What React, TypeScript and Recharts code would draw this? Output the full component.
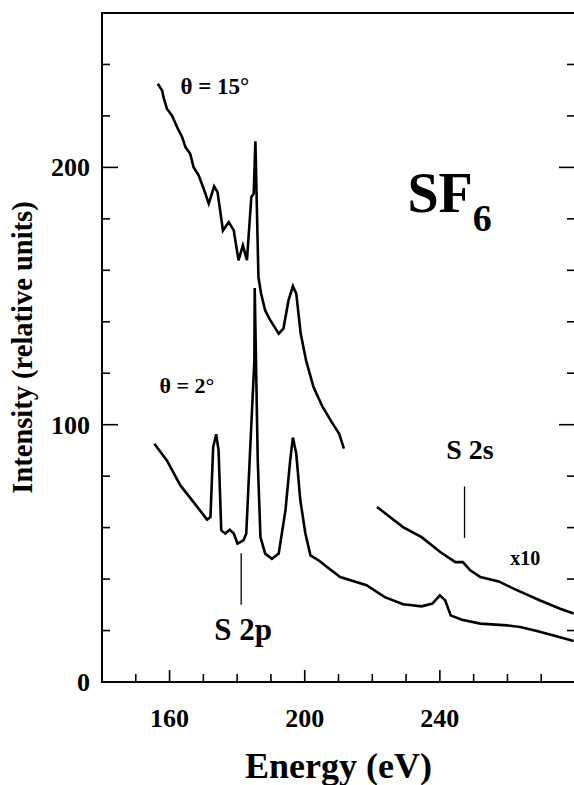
import React from 'react';
import {
  LineChart,
  Line,
  XAxis,
  YAxis,
  ReferenceLine,
  ReferenceDot,
  ReferenceArea,
} from 'recharts';

// theta = 15 deg spectrum (upper curve)
const theta15Energy = [
  156.5, 157.8, 158.2, 159.2, 160.7, 162.2, 163.7, 164.7, 166.1, 167.1, 168.6, 170.1,
  171.6, 173.2, 174.2, 175.8, 177.5, 179.0, 180.4, 181.7, 182.9, 184.2, 184.9, 185.4,
  186.3, 187.1, 188.3, 189.8, 192.3, 193.7, 195.2, 196.5, 197.5, 198.8, 200.4, 202.6,
  205.3, 208.0, 210.2, 211.6,
];
const theta15Intensity = [
  232.5, 229.9, 227.3, 222.8, 220.2, 215.7, 211.8, 207.9, 205.3, 200.1, 196.9, 191.7,
  185.9, 192.6, 190.4, 175.5, 178.7, 175.5, 163.9, 169.7, 163.9, 188.5, 189.8, 210.1,
  157.4, 150.9, 144.4, 140.6, 135.4, 137.3, 148.3, 153.8, 150.9, 135.5, 125.0, 114.6,
  106.9, 101.0, 96.5, 90.7,
];

// theta = 2 deg spectrum (lower curve)
const theta2Energy = [
  155.5, 159.2, 163.2, 167.1, 171.1, 172.1, 172.9, 173.8, 174.5, 175.3, 176.5, 177.8,
  179.0, 180.1, 181.9, 182.7, 183.7, 184.4, 185.1, 185.2, 186.1, 186.9, 188.3, 190.3,
  192.3, 194.3, 195.7, 196.5, 197.5, 198.7, 200.2, 201.7, 204.1, 206.6, 210.5, 218.3,
  223.7, 229.1, 234.6, 237.8, 240.0, 241.6, 243.2, 246.5, 252.0, 259.9, 263.8, 268.7,
  273.7, 279.6,
];
const theta2Intensity = [
  92.6, 86.1, 76.4, 69.9, 63.1, 64.1, 91.3, 96.3, 90.0, 58.9, 57.7, 59.2,
  57.7, 53.8, 55.1, 57.7, 86.1, 105.6, 125.0, 153.1, 86.1, 56.3, 49.9, 47.9,
  49.9, 66.7, 86.1, 95.0, 88.7, 70.6, 57.7, 49.2, 47.3, 44.7, 40.8, 37.6,
  33.0, 30.2, 29.4, 30.5, 33.7, 31.7, 25.9, 24.2, 22.7, 22.0, 21.4, 19.8,
  18.1, 15.9,
];

// S 2s region, x10
const x10Energy = [221.4, 229.1, 234.6, 240.1, 244.6, 246.8, 249.0, 252.0, 257.4, 261.8, 269.7, 275.6, 279.6];
const x10Intensity = [68.0, 60.2, 56.3, 50.5, 46.6, 46.6, 43.4, 40.8, 39.1, 36.3, 31.7, 28.5, 26.6];

const xTicks = [140, 150, 160, 170, 180, 190, 200, 210, 220, 230, 240, 250, 260, 270, 280];
const xLabels = [160, 200, 240];
const yTicks = [0, 20, 40, 60, 80, 100, 120, 140, 160, 180, 200, 220, 240, 260];
const yLabels = [0, 100, 200];

const toPoints = (e: number[], v: number[]) => e.map((x, i) => ({ e: x, v: v[i] }));

const serif = '"Liberation Serif", "Times New Roman", serif';
const ink = '#000';

function BottomTick({ x, y, payload }: any) {
  const v = payload.value;
  const major = xLabels.includes(v);
  return (
    <g>
      <line x1={x} y1={y} x2={x} y2={y - (major ? 12 : 8)} stroke={ink} strokeWidth={1.6} />
      {major && (
        <text x={x} y={y + 45} textAnchor="middle" fontFamily={serif} fontWeight="bold" fontSize={26} fill={ink}>
          {v}
        </text>
      )}
    </g>
  );
}

function TopTick({ x, y, payload }: any) {
  const major = xLabels.includes(payload.value);
  return <line x1={x} y1={y} x2={x} y2={y + (major ? 12 : 8)} stroke={ink} strokeWidth={1.6} />;
}

function LeftTick({ x, y, payload }: any) {
  const v = payload.value;
  const major = yLabels.includes(v);
  return (
    <g>
      <line x1={x} y1={y} x2={x + (major ? 16 : 8)} y2={y} stroke={ink} strokeWidth={1.6} />
      {major && (
        <text x={x - 12} y={y + 9} textAnchor="end" fontFamily={serif} fontWeight="bold" fontSize={26} fill={ink}>
          {v}
        </text>
      )}
    </g>
  );
}

function RightTick({ x, y, payload }: any) {
  const major = yLabels.includes(payload.value);
  return <line x1={x} y1={y} x2={x - (major ? 16 : 8)} y2={y} stroke={ink} strokeWidth={1.6} />;
}

const note = (text: React.ReactNode, size: number) => (props: any) => {
  const { x, y } = props.viewBox;
  return (
    <text x={x} y={y} fontFamily={serif} fontWeight="bold" fontSize={size} fill={ink}>
      {text}
    </text>
  );
};

const xTitle = (props: any) => {
  const vb = props.viewBox;
  return (
    <text x={vb.x + vb.width / 2} y={vb.y + 96} textAnchor="middle" fontFamily={serif} fontWeight="bold" fontSize={36} fill={ink}>
      Energy (eV)
    </text>
  );
};

const yTitle = (props: any) => {
  const vb = props.viewBox;
  const cx = vb.x + 32;
  const cy = vb.y + vb.height / 2;
  return (
    <text x={cx} y={cy} transform={`rotate(-90, ${cx}, ${cy})`} textAnchor="middle" fontFamily={serif} fontWeight="bold" fontSize={28.5} fill={ink}>
      Intensity (relative units)
    </text>
  );
};

export default function App() {
  return (
    <div style={{ position: 'absolute', left: 0, top: 0, width: 574, height: 785, overflow: 'hidden', background: '#fff' }}>
      <LineChart width={600} height={785} margin={{ top: 13, right: 24, bottom: 0, left: 0 }}>
        <XAxis
          dataKey="e"
          type="number"
          domain={[140, 280]}
          ticks={xTicks}
          interval={0}
          height={103}
          tickSize={0}
          tickMargin={0}
          tickLine={false}
          axisLine={false}
          tick={<BottomTick />}
          label={xTitle}
          allowDataOverflow
        />
        <XAxis
          xAxisId="top"
          orientation="top"
          type="number"
          domain={[140, 280]}
          ticks={xTicks}
          interval={0}
          height={0}
          tickSize={0}
          tickMargin={0}
          tickLine={false}
          axisLine={false}
          tick={<TopTick />}
          allowDataOverflow
        />
        <YAxis
          type="number"
          domain={[0, 260]}
          ticks={yTicks}
          interval={0}
          width={102}
          tickSize={0}
          tickMargin={0}
          tickLine={false}
          axisLine={false}
          tick={<LeftTick />}
          label={yTitle}
          allowDataOverflow
        />
        <YAxis
          yAxisId="right"
          orientation="right"
          type="number"
          domain={[0, 260]}
          ticks={yTicks}
          interval={0}
          width={1}
          tickSize={0}
          tickMargin={0}
          tickLine={false}
          axisLine={false}
          tick={<RightTick />}
          allowDataOverflow
        />

        {/* plot frame */}
        <ReferenceArea x1={140} x2={280} y1={0} y2={260} fill="none" stroke={ink} strokeWidth={2} fillOpacity={0} />

        <Line data={toPoints(theta15Energy, theta15Intensity)} dataKey="v" type="linear" stroke={ink} strokeWidth={2.6} dot={false} isAnimationActive={false} />
        <Line data={toPoints(theta2Energy, theta2Intensity)} dataKey="v" type="linear" stroke={ink} strokeWidth={2.6} dot={false} isAnimationActive={false} />
        <Line data={toPoints(x10Energy, x10Intensity)} dataKey="v" type="linear" stroke={ink} strokeWidth={2.6} dot={false} isAnimationActive={false} />

        {/* edge markers */}
        <ReferenceLine segment={[{ x: 181.2, y: 50 }, { x: 181.2, y: 30 }]} stroke={ink} strokeWidth={1.3} />
        <ReferenceLine segment={[{ x: 247.3, y: 76 }, { x: 247.3, y: 56 }]} stroke={ink} strokeWidth={1.3} />

        <ReferenceDot x={163.2} y={228.7} r={0} fill="none" stroke="none" label={note('θ = 15°', 23)} />
        <ReferenceDot x={157.0} y={112.4} r={0} fill="none" stroke="none" label={note('θ = 2°', 22)} />
        <ReferenceDot
          x={230.4}
          y={182.8}
          r={0}
          fill="none"
          stroke="none"
          label={note(<>SF<tspan fontSize={38} dy={19}>6</tspan></>, 56)}
        />
        <ReferenceDot x={173.2} y={16.2} r={0} fill="none" stroke="none" label={note('S 2p', 31)} />
        <ReferenceDot x={241.9} y={86.5} r={0} fill="none" stroke="none" label={note('S 2s', 28)} />
        <ReferenceDot x={260.8} y={45.3} r={0} fill="none" stroke="none" label={note('x10', 20)} />
      </LineChart>
    </div>
  );
}
